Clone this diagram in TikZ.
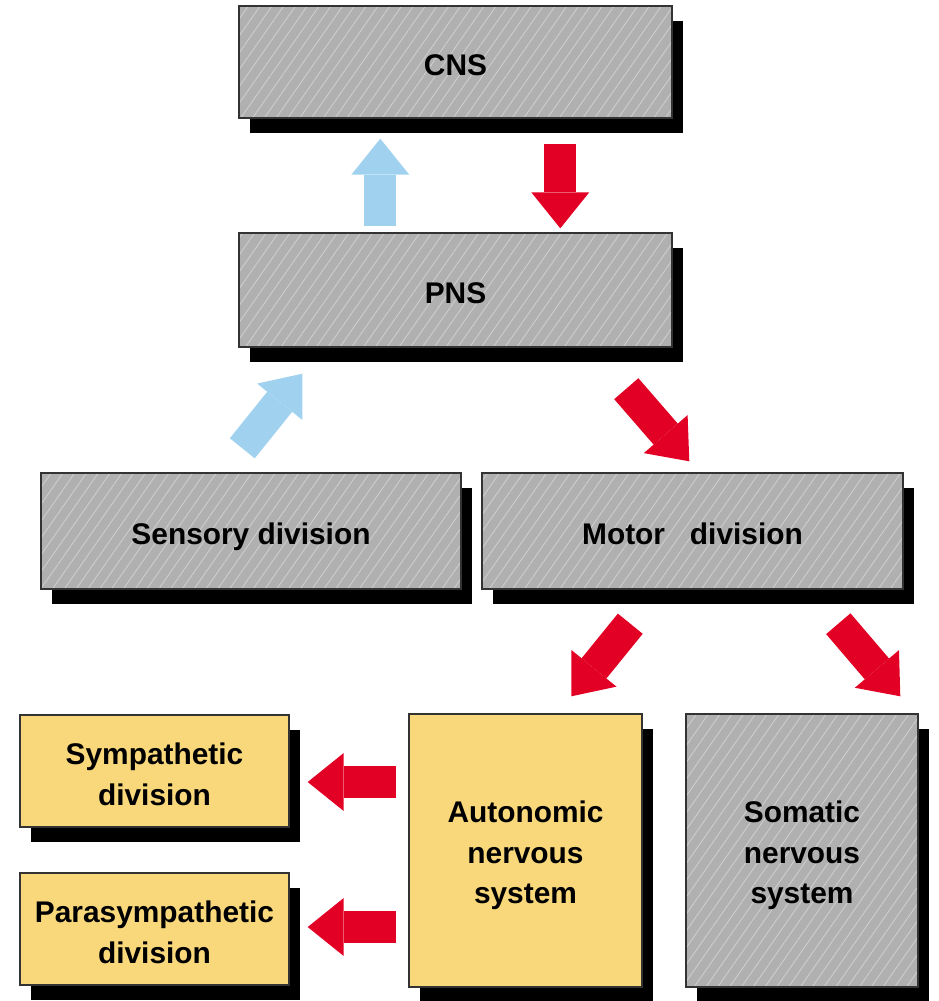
\documentclass[tikz,border=0pt]{standalone}
\usepackage{fontspec}
\setmainfont{Liberation Sans}
\usepackage{tikz}
\usetikzlibrary{arrows.meta,calc,shadows,patterns.meta}
\definecolor{boxgray}{RGB}{176,176,176}
\definecolor{hatchgray}{RGB}{206,206,206}
\definecolor{boxyellow}{RGB}{248,216,122}
\definecolor{nsred}{RGB}{226,0,36}
\definecolor{nsblue}{RGB}{160,210,240}
\tikzset{
  box/.style={draw=black!80, line width=0.8pt, align=center,
              font=\fontsize{17}{23}\selectfont\bfseries,
              drop shadow={shadow xshift=0.22cm, shadow yshift=-0.29cm, opacity=1, fill=black}},
  graybox/.style={box, fill=boxgray,
              postaction={pattern={Lines[angle=55, distance=5.5pt, line width=0.5pt]}, pattern color=hatchgray},
              postaction={draw=black!80, line width=0.8pt}},
  yellowbox/.style={box, fill=boxyellow},
  oneline/.style={text height=15.6pt, text depth=0pt},
  fatarr/.style={line width=0.64cm, -{Triangle[length=0.72cm, width=1.16cm, line width=0pt]}},
  redarr/.style={fatarr, nsred},
  bluearr/.style={fatarr, nsblue},
}

\begin{document}
\begin{tikzpicture}
  \useasboundingbox (0,0) rectangle (18.78,-20.02);
  % central and peripheral
  \node[graybox, oneline, minimum width=8.66cm, minimum height=2.24cm] (cns) at (9.11,-1.24) {CNS};
  \node[graybox, oneline, minimum width=8.66cm, minimum height=2.28cm] (pns) at (9.11,-5.80) {PNS};
  % divisions
  \node[graybox, oneline, minimum width=8.40cm, minimum height=2.32cm] (sens) at (5.02,-10.62) {Sensory division};
  \node[graybox, oneline, minimum width=8.42cm, minimum height=2.32cm] (motor) at (13.85,-10.62) {Motor\ \ \ division};
  % motor branches
  \node[yellowbox, minimum width=4.66cm, minimum height=5.46cm] (auto) at (10.51,-17.01) {\\[-5pt]Autonomic\\nervous\\system};
  \node[graybox, minimum width=4.64cm, minimum height=5.46cm] (soma) at (16.04,-17.01) {\\[-5pt]Somatic\\nervous\\system};
  \node[yellowbox, minimum width=5.38cm, minimum height=2.24cm] (symp) at (3.09,-15.42) {\\[-7pt]Sympathetic\\division};
  \node[yellowbox, minimum width=5.38cm, minimum height=2.24cm] (para) at (3.09,-18.58) {\\[-7pt]Parasympathetic\\division};
  % arrows
  \draw[bluearr] ([xshift=2.84cm, yshift=0.12cm]pns.north west) -- ([xshift=2.84cm, yshift=-0.40cm]cns.south west);
  \draw[redarr] ([xshift=6.44cm, yshift=-0.50cm]cns.south west) -- ([xshift=6.44cm, yshift=0.08cm]pns.north west);
  \draw[bluearr] ([xshift=4.04cm, yshift=0.48cm]sens.north west) -- ([xshift=1.28cm, yshift=-0.52cm]pns.south west);
  \draw[redarr] ([xshift=7.76cm, yshift=-0.82cm]pns.south west) -- ([xshift=4.16cm, yshift=0.22cm]motor.north west);
  \draw[redarr] ([xshift=2.98cm, yshift=-0.68cm]motor.south west) -- ([xshift=3.26cm, yshift=0.34cm]auto.north west);
  \draw[redarr] ([xshift=7.14cm, yshift=-0.68cm]motor.south west) -- ([xshift=4.30cm, yshift=0.34cm]soma.north west);
  \draw[redarr] ($(auto.west |- symp.east)+(-0.24,-0.22)$) -- ($(symp.east)+(0.36,-0.22)$);
  \draw[redarr] ($(auto.west |- para.east)+(-0.24,0.04)$) -- ($(para.east)+(0.36,0.04)$);
\end{tikzpicture}
\end{document}
